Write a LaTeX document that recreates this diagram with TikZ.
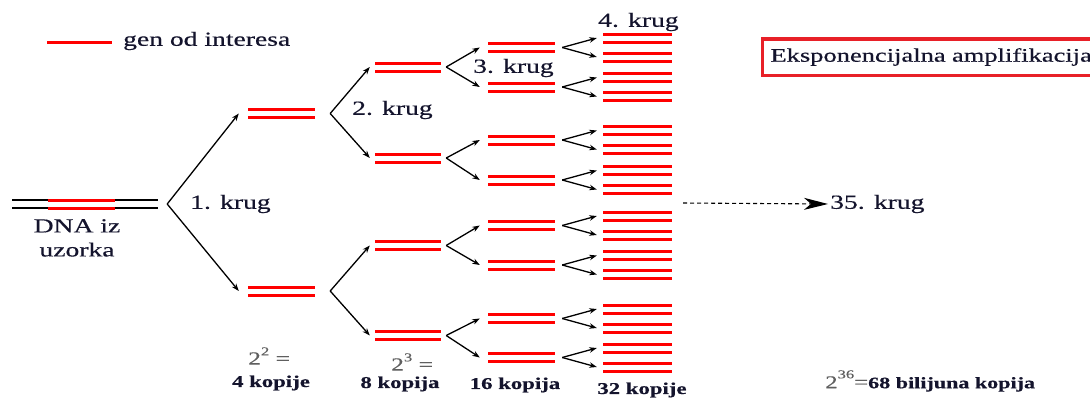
\documentclass[tikz,border=0pt]{standalone}
\usepackage{fontspec}
\setmainfont{Liberation Serif}[FakeStretch=1.38, FakeBold=0.4]
\usetikzlibrary{arrows.meta}
\definecolor{barred}{RGB}{255,0,0}
\definecolor{boxred}{RGB}{232,32,40}
\definecolor{gr}{RGB}{95,95,95}
\definecolor{txt}{RGB}{20,20,45}
\tikzset{
  dbar/.style={rectangle, inner sep=0pt, minimum height=11pt,
    path picture={
      \fill[barred] (path picture bounding box.north west) rectangle ([yshift=-3pt]path picture bounding box.north east);
      \fill[barred] (path picture bounding box.south west) rectangle ([yshift=3pt]path picture bounding box.south east);}},
  dnabar/.style={rectangle, inner sep=0pt, minimum height=10pt,
    path picture={
      \draw[black, line width=1.4pt] ([yshift=-1pt]path picture bounding box.north west) -- ([yshift=-1pt]path picture bounding box.north east);
      \draw[black, line width=1.4pt] ([yshift=1pt]path picture bounding box.south west) -- ([yshift=1pt]path picture bounding box.south east);}},
  arr/.style={-{Stealth[length=7.5pt,width=5.5pt]}, line width=1.3pt, black},
  darr/.style={-{Stealth[length=24pt,width=12pt,inset=7pt]}, line width=1.1pt, dash pattern=on 4pt off 3pt, black},
  lbl/.style={inner sep=0pt, text=txt, font=\fontsize{20}{24}\selectfont},
  cnt/.style={inner sep=0pt, text=txt, font=\fontsize{16.5}{16.5}\selectfont\bfseries},
  pw/.style={inner sep=0pt, text=gr, font=\fontsize{18.5}{18.5}\selectfont},
}
\begin{document}
\begin{tikzpicture}[x=1pt,y=-1pt]
\fill[white] (0,0) rectangle (1090,399);
\useasboundingbox (0,0) rectangle (1090,399);

% legend
\draw[barred, line width=3pt] (47,42) -- (112,42);
\node[lbl, anchor=west] (leg) at (123,41) {gen od interesa};

% sample DNA
\node[dnabar, minimum width=146pt] (dna) at (85,204) {};
\node[dbar, minimum width=67pt] (gene) at (81.5,204) {};
\node[lbl, align=center, anchor=north] (dnalbl) at (77,219) {DNA iz\\uzorka};
\coordinate (v0) at ([xshift=9pt]dna.east);

% round 1
\node[dbar, minimum width=67pt] (a1) at (281.5,113.5) {};
\node[dbar, minimum width=67pt] (a2) at (281.5,291) {};
\draw[arr] (v0) -- ([xshift=-9pt]a1.west);
\draw[arr] (v0) -- ([xshift=-9pt]a2.west);
\node[lbl, anchor=west] (k1) at (190,204) {1. krug};

% round 2
\node[dbar, minimum width=66pt] (b1) at (408,67) {};
\node[dbar, minimum width=66pt] (b2) at (408,158) {};
\node[dbar, minimum width=66pt] (b3) at (408,245.5) {};
\node[dbar, minimum width=66pt] (b4) at (408,335.5) {};
\coordinate (u1) at ([xshift=15pt]a1.east);
\coordinate (u2) at ([xshift=15pt]a2.east);
\draw[arr] (u1) -- ([xshift=-5pt]b1.west);
\draw[arr] (u1) -- ([xshift=-5pt]b2.west);
\draw[arr] (u2) -- ([xshift=-5pt]b3.west);
\draw[arr] (u2) -- ([xshift=-5pt]b4.west);
\node[lbl, anchor=west] (k2) at (352,110) {2. krug};

% round 3 and 4
\foreach \i/\y in {1/47.5,2/87,3/140,4/180,5/225.5,6/265,7/318.5,8/357.5} {
  \node[dbar, minimum width=67pt] (c\i) at (521.5,\y) {};
  \node[dbar, minimum width=69pt] (d\i-a) at (637.5,\y-9.5) {};
  \node[dbar, minimum width=69pt] (d\i-b) at (637.5,\y+9.5) {};
  \coordinate (w\i) at ([xshift=7pt]c\i.east);
  \draw[arr] (w\i) -- ([xshift=-6pt]d\i-a.west);
  \draw[arr] (w\i) -- ([xshift=-6pt]d\i-b.west);
}
\foreach \j/\p/\q in {1/1/2,2/3/4,3/5/6,4/7/8} {
  \coordinate (t\j) at ([xshift=5pt]b\j.east);
  \draw[arr] (t\j) -- ([xshift=-8pt]c\p.west);
  \draw[arr] (t\j) -- ([xshift=-8pt]c\q.west);
}
\node[lbl, anchor=west] (k3) at (473,68) {3. krug};
\node[lbl, anchor=west] (k4) at (598,22) {4. krug};

% round 35
\coordinate (ds) at (683,203);
\node[lbl, anchor=west] (k35) at (830,204) {35. krug};
\draw[darr] (ds) -- ([xshift=-2pt]k35.west);

% title box
\node[draw=boxred, line width=3.5pt, anchor=west, inner xsep=8pt, inner ysep=0pt,
      text width=340pt, minimum height=36.5pt, align=left, text=txt, font=\fontsize{19.2}{23}\selectfont]
      (title) at (760.75,57) {Eksponencijalna amplifikacija};

% counts
\node[pw, anchor=west] (p2) at (248,356) {2\raisebox{0.5em}{\fontsize{12}{12}\selectfont 2} =};
\node[cnt] (n4) at (271,383) {4 kopije};
\node[pw, anchor=west] (p3) at (391,362) {2\raisebox{0.5em}{\fontsize{12}{12}\selectfont 3} =};
\node[cnt] (n8) at (400,384) {8 kopija};
\node[cnt] (n16) at (515,385) {16 kopija};
\node[cnt] (n32) at (642,390) {32 kopije};
\node[inner sep=0pt, anchor=west] (n36) at (825,381)
  {{\color{gr}\fontsize{18}{18}\selectfont 2\raisebox{0.55em}{\fontsize{12}{12}\selectfont 36}=}{\color{txt}\fontsize{16}{16}\selectfont\bfseries 68 bilijuna kopija}};
\end{tikzpicture}
\end{document}
